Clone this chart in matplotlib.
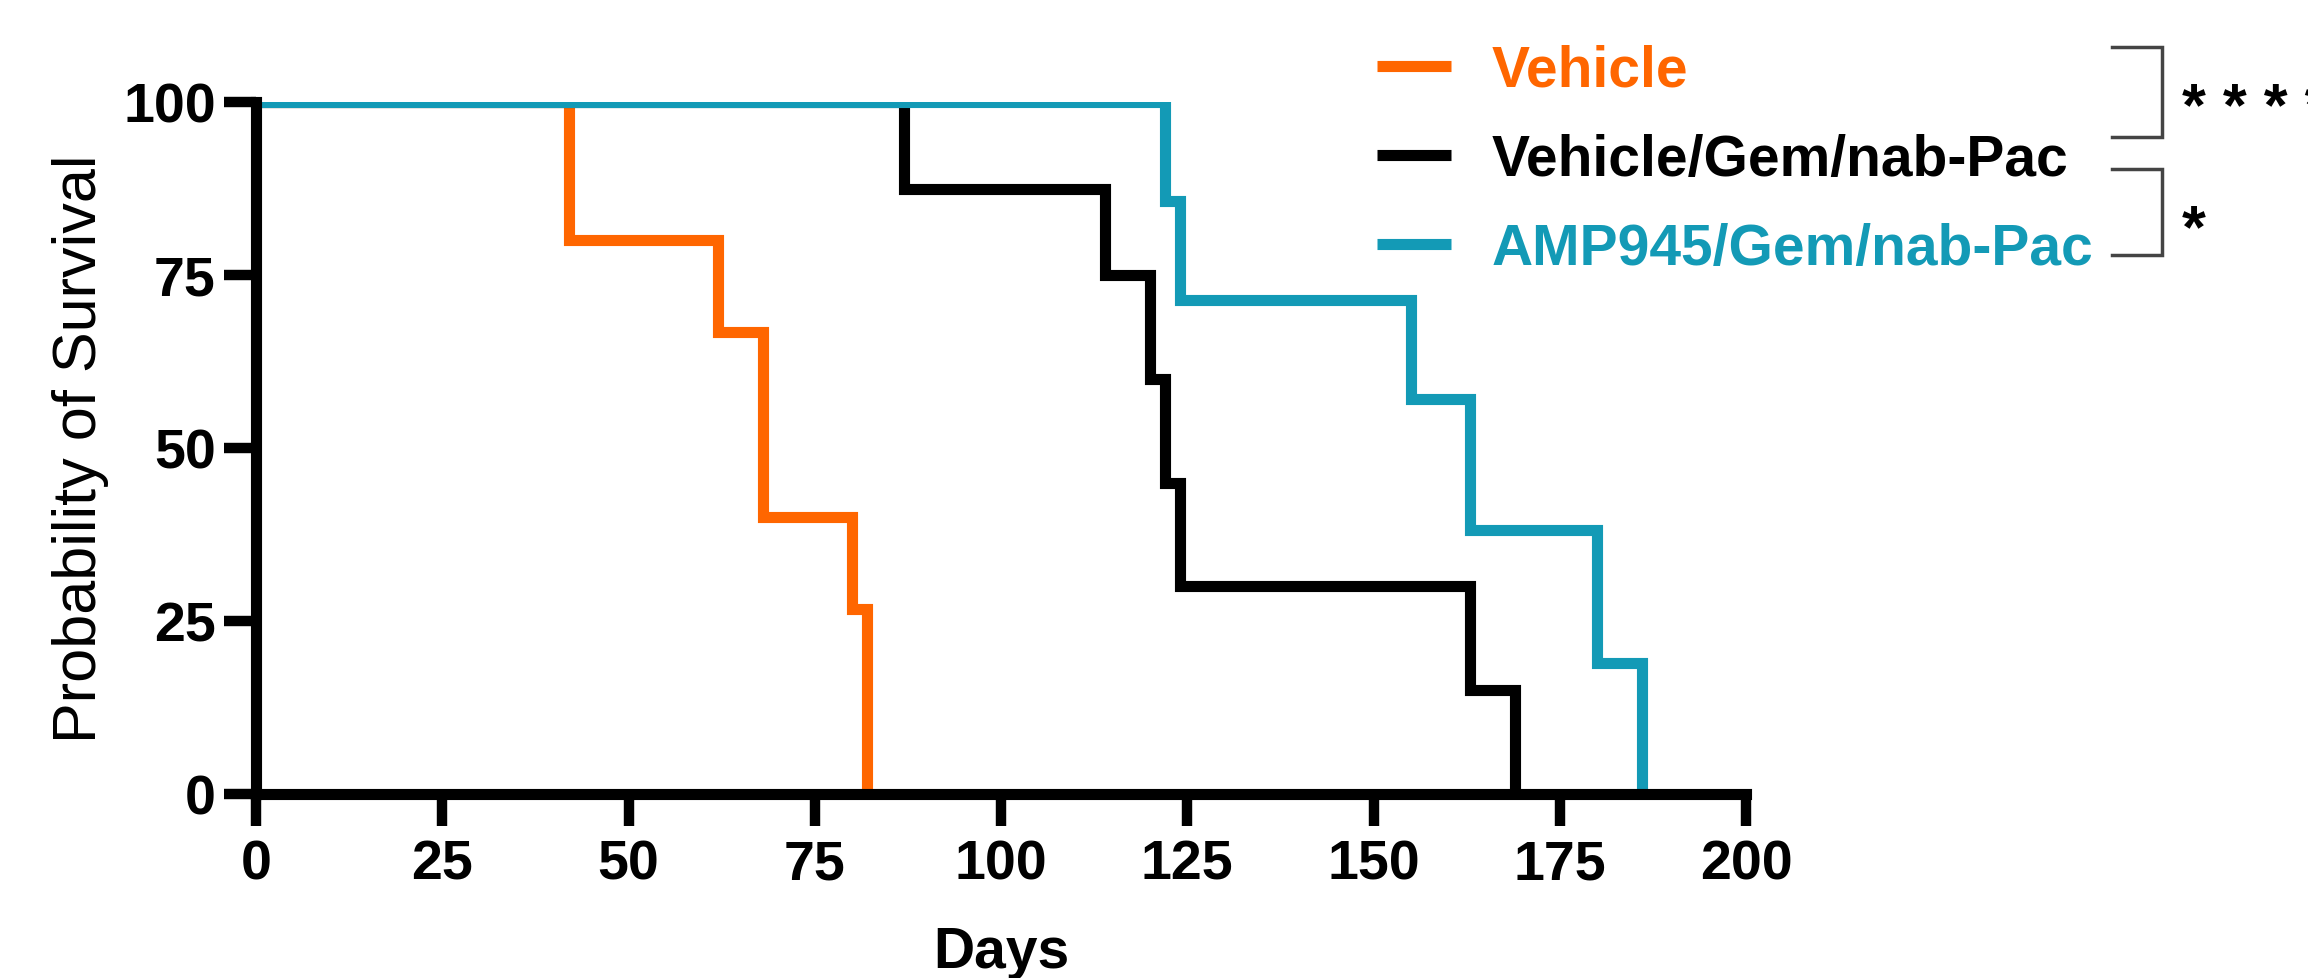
import matplotlib
matplotlib.use("Agg")
import matplotlib.pyplot as plt
from matplotlib.lines import Line2D

plt.rcParams['font.family'] = ['Liberation Sans', 'DejaVu Sans']

# ---- data ----
groups = ["Vehicle", "Vehicle/Gem/nab-Pac", "AMP945/Gem/nab-Pac"]
colors = ["#FF6600", "#000000", "#139AB6"]

vehicle_days = [0, 42, 62, 68, 80, 82]
vehicle_surv = [100, 80, 66.7, 40, 26.7, 0]

gem_days = [0, 87, 114, 120, 122, 124, 163, 169]
gem_surv = [100, 87.5, 75, 60, 45, 30, 15, 0]

amp_days = [0, 122, 124, 155, 163, 180, 186]
amp_surv = [100, 85.7, 71.4, 57.1, 38.1, 19.0, 0]

x_ticks = [0, 25, 50, 75, 100, 125, 150, 175, 200]
y_ticks = [0, 25, 50, 75, 100]

sig_labels = ["* * * *", "*"]

# ---- figure ----
W, H = 2308, 979
fig = plt.figure(figsize=(W / 100, H / 100), dpi=100)
ax = fig.add_axes([256 / W, 1 - 795 / H, (1746 - 256) / W, (795 - 103) / H])

series = [(vehicle_days, vehicle_surv), (gem_days, gem_surv), (amp_days, amp_surv)]
for (d, s), c, g in zip(series, colors, groups):
    ax.step(d, s, where='post', color=c, lw=8, label=g,
            solid_joinstyle='miter', solid_capstyle='butt')

ax.set_xlim(0, 200)
ax.set_ylim(0, 100)
ax.set_xticks(x_ticks)
ax.set_yticks(y_ticks)
ax.set_xticklabels([str(v) for v in x_ticks], fontsize=40, fontweight='bold')
ax.set_yticklabels([str(v) for v in y_ticks], fontsize=40, fontweight='bold')
ax.tick_params(axis='both', width=7.5, length=23, color='black')
ax.tick_params(axis='x', pad=9)
ax.tick_params(axis='y', pad=6)

for side in ['top', 'right']:
    ax.spines[side].set_visible(False)
for side in ['left', 'bottom']:
    ax.spines[side].set_linewidth(8)
    ax.spines[side].set_color('black')

ax.set_ylabel("Probability of Survival", fontsize=44)
ax.yaxis.set_label_coords(-0.118, 0.5)
ax.yaxis.label.set_va('center')

ax.set_xlabel("Days", fontsize=41, fontweight='bold')
ax.xaxis.set_label_coords(0.5, (795 - 968) / (795 - 103))
ax.xaxis.label.set_va('baseline')

# legend
leg = ax.legend(loc='center left', bbox_to_anchor=(1377 / W, 1 - 161 / H),
                bbox_transform=fig.transFigure, frameon=False,
                prop={'size': 41, 'weight': 'bold'},
                handlelength=1.3, handletextpad=0.72, labelspacing=0.62,
                borderpad=0, borderaxespad=0)
for txt, c in zip(leg.get_texts(), colors):
    txt.set_color(c)
for h in leg.get_lines():
    h.set_linewidth(8)

# significance brackets
def bracket(y_top, y_bot):
    x0, x1 = 2112 / W, 2162 / W
    yt, yb = 1 - y_top / H, 1 - y_bot / H
    fig.add_artist(Line2D([x0, x1, x1, x0], [yt, yt, yb, yb], color='#444444',
                          lw=2.5, solid_joinstyle='miter'))

bracket(48, 138)
bracket(170, 256)
fig.text(2182 / W, 1 - 110 / H, sig_labels[0], fontsize=44, fontweight='bold',
         va='center', ha='left', color='black')
fig.text(2182 / W, 1 - 232 / H, sig_labels[1], fontsize=44, fontweight='bold',
         va='center', ha='left', color='black')

fig.savefig("out.png", dpi=100)
